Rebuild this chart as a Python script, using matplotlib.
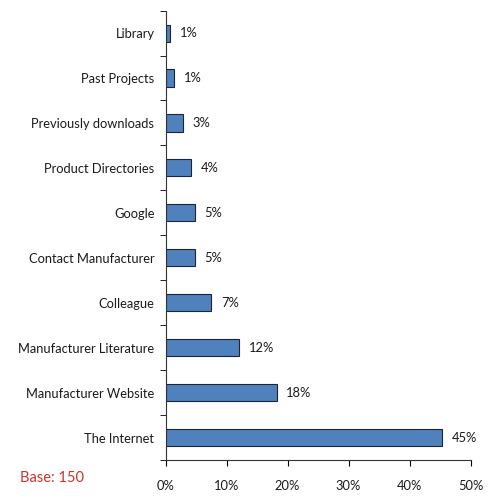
import matplotlib
matplotlib.use('Agg')
import matplotlib.pyplot as plt

# sources used, top to bottom
categories = ['Library', 'Past Projects', 'Previously downloads', 'Product Directories',
              'Google', 'Contact Manufacturer', 'Colleague', 'Manufacturer Literature',
              'Manufacturer Website', 'The Internet']
values = [0.8, 1.4, 2.8, 4.2, 4.8, 4.8, 7.5, 12.1, 18.2, 45.4]
labels = ['1%', '1%', '3%', '4%', '5%', '5%', '7%', '12%', '18%', '45%']
ticks = [0, 10, 20, 30, 40, 50]


def main():
    plt.rcParams['font.family'] = ['Lato', 'DejaVu Sans']
    fig = plt.figure(figsize=(5, 5.04), dpi=100)
    ax = fig.add_axes([0.331, 0.087, 0.61, 0.892])

    pos = list(range(len(categories)))
    ax.barh(pos, values, height=0.38, color='#4F81BD', edgecolor='#1A2638', linewidth=0.8)
    for p, v, t in zip(pos, values, labels):
        ax.text(v + 1.6, p, t, va='center', ha='left', fontsize=9.3, color='#1a1a1a')

    ax.set_ylim(9.5, -0.5)
    ax.set_xlim(0, 50)
    ax.set_yticks(pos)
    ax.set_yticklabels(categories, fontsize=9.3, color='#1a1a1a')
    ax.set_xticks(ticks)
    ax.set_xticklabels([f'{t}%' for t in ticks], fontsize=9.3, color='#1a1a1a')
    ax.tick_params(axis='y', length=0, pad=8)
    ax.tick_params(axis='x', length=4, direction='out', pad=10)
    # y ticks sit between the categories
    ax.set_yticks([p - 0.5 for p in pos] + [9.5], minor=True)
    ax.tick_params(axis='y', which='minor', length=4, direction='out')

    for s in ['top', 'right']:
        ax.spines[s].set_visible(False)
    ax.spines['left'].set_color('#333333')
    ax.spines['bottom'].set_color('#333333')

    fig.text(0.04, 0.052, 'Base: 150', color='#D0312D', fontsize=10.5, va='center')
    fig.savefig('out.png')


if __name__ == "__main__":
    main()
